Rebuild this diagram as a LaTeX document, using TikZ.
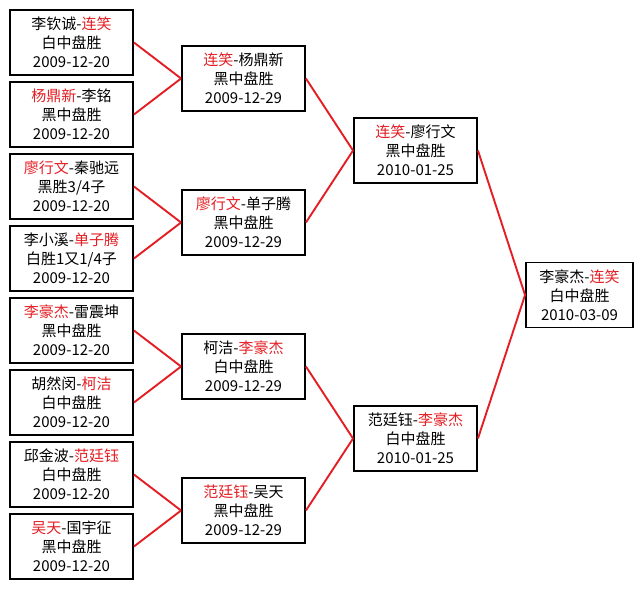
\documentclass[tikz,border=0pt]{standalone}
\usepackage{fontspec}
\setmainfont{Noto Sans CJK SC}
\definecolor{winred}{RGB}{228,30,36}
\newcommand{\rd}[1]{\textcolor{winred}{#1}}
\begin{document}
\begin{tikzpicture}[x=1pt,y=-1pt,
  gbox/.style={draw=black,line width=1.9pt,fill=white,minimum width=123pt,minimum height=65pt,
    inner sep=0pt,align=center,font=\fontsize{15pt}{19pt}\selectfont},
  link/.style={draw=winred,line width=1.9pt}]
\useasboundingbox[fill=white] (0,0) rectangle (643,589);
% round 1
\node[gbox] (a1) at (71.5,42.5) {李钦诚-\rd{连笑}\\白中盘胜\\2009-12-20};
\node[gbox] (a2) at (71.5,114.5) {\rd{杨鼎新}-李铭\\黑中盘胜\\2009-12-20};
\node[gbox] (a3) at (71.5,186.5) {\rd{廖行文}-秦驰远\\黑胜3/4子\\2009-12-20};
\node[gbox] (a4) at (71.5,258.5) {李小溪-\rd{单子腾}\\白胜1又1/4子\\2009-12-20};
\node[gbox] (a5) at (71.5,330.5) {\rd{李豪杰}-雷震坤\\黑中盘胜\\2009-12-20};
\node[gbox] (a6) at (71.5,402.5) {胡然闵-\rd{柯洁}\\白中盘胜\\2009-12-20};
\node[gbox] (a7) at (71.5,474.5) {邱金波-\rd{范廷钰}\\白中盘胜\\2009-12-20};
\node[gbox] (a8) at (71.5,546.5) {\rd{吴天}-国宇征\\黑中盘胜\\2009-12-20};
% round 2
\node[gbox] (b1) at (243.5,78.5) {\rd{连笑}-杨鼎新\\黑中盘胜\\2009-12-29};
\node[gbox] (b2) at (243.5,222.5) {\rd{廖行文}-单子腾\\黑中盘胜\\2009-12-29};
\node[gbox] (b3) at (243.5,366.5) {柯洁-\rd{李豪杰}\\白中盘胜\\2009-12-29};
\node[gbox] (b4) at (243.5,510.5) {\rd{范廷钰}-吴天\\黑中盘胜\\2009-12-29};
% round 3
\node[gbox] (c1) at (415.5,150.5) {\rd{连笑}-廖行文\\黑中盘胜\\2010-01-25};
\node[gbox] (c2) at (415.5,438.5) {范廷钰-\rd{李豪杰}\\白中盘胜\\2010-01-25};
% final
\node[gbox,minimum width=107pt] (d1) at (579.5,295) {李豪杰-\rd{连笑}\\白中盘胜\\2010-03-09};
% connectors
\draw[link] (a1.east) -- (b1.west);
\draw[link] (a2.east) -- (b1.west);
\draw[link] (a3.east) -- (b2.west);
\draw[link] (a4.east) -- (b2.west);
\draw[link] (a5.east) -- (b3.west);
\draw[link] (a6.east) -- (b3.west);
\draw[link] (a7.east) -- (b4.west);
\draw[link] (a8.east) -- (b4.west);
\draw[link] (b1.east) -- (c1.west);
\draw[link] (b2.east) -- (c1.west);
\draw[link] (b3.east) -- (c2.west);
\draw[link] (b4.east) -- (c2.west);
\draw[link] (c1.east) -- (d1.west);
\draw[link] (c2.east) -- (d1.west);
\end{tikzpicture}
\end{document}
